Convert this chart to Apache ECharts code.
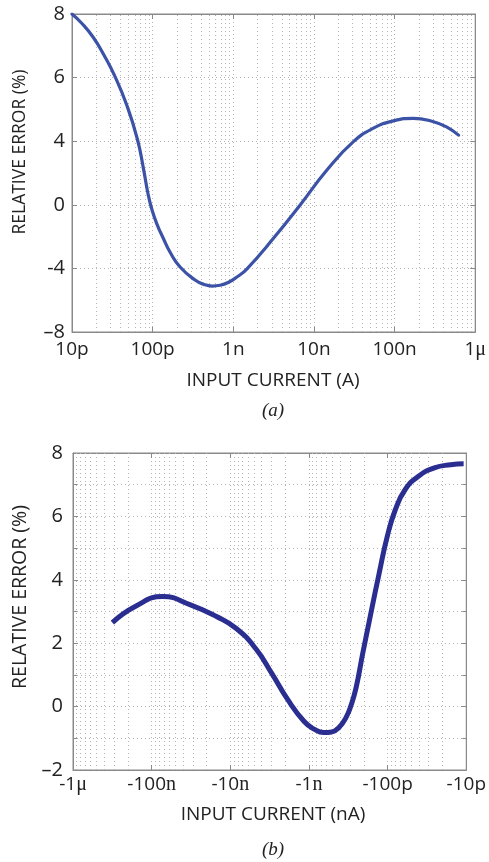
<!DOCTYPE html>
<html>
<head>
<meta charset="utf-8">
<script src="https://cdn.jsdelivr.net/npm/echarts@6/dist/echarts.min.js"></script>
<style>
  html, body { margin: 0; padding: 0; background: #fff; }
  #chart { width: 489px; height: 862px; }
</style>
</head>
<body>
<div id="chart"></div>
<script>
// Panel (a): positive input current, amps
const currentA = [1.00e-11, 1.33e-11, 1.84e-11, 2.49e-11, 3.42e-11, 4.77e-11, 6.46e-11,
  7.67e-11, 8.77e-11, 9.83e-11, 1.13e-10, 1.35e-10, 1.64e-10, 2.19e-10, 3.36e-10, 4.34e-10,
  5.46e-10, 6.86e-10, 8.62e-10, 1.11e-9, 1.47e-9, 3.15e-9, 6.75e-9,
  1.45e-8, 3.09e-8, 5.47e-8, 9.68e-8, 1.71e-7, 3.04e-7, 4.46e-7, 6.21e-7];
const errorA = [8.00, 7.70, 7.26, 6.71, 6.03, 5.14, 4.07,
  2.31, 0.68, -0.33, -1.21, -2.09, -2.97, -3.91, -4.73, -5.01,
  -5.11, -5.06, -4.89, -4.54, -4.04, -2.11, -0.01,
  2.19, 3.97, 4.41, 4.64, 4.72, 4.61, 4.44, 4.19];

// Panel (b): negative input current, amps
const currentB = [-3.16e-7, -1.62e-7, -7.23e-8, -3.21e-8, -1.50e-8, -8.47e-9, -4.79e-9,
  -2.97e-9, -1.85e-9, -1.15e-9, -8.62e-10, -6.48e-10, -5.16e-10, -4.10e-10, -3.36e-10,
  -2.91e-10, -2.52e-10, -2.07e-10, -1.63e-10, -1.28e-10, -1.01e-10, -7.98e-11, -6.00e-11,
  -4.09e-11, -2.55e-11, -1.58e-11, -1.08e-11];
const errorB = [2.65, 3.16, 3.47, 3.21, 2.84, 2.47, 1.84,
  1.05, 0.21, -0.47, -0.71, -0.82, -0.80, -0.64, -0.33,
  0.05, 0.59, 1.68, 2.95, 4.21, 5.37, 6.21, 6.84,
  7.26, 7.53, 7.63, 7.66];

// Tick labels
const xTicksA = ['10p', '100p', '1n', '10n', '100n', '1{s|\u03bc}'];
const xTicksB = ['-10p', '-100p', '-1{s|n}', '-10{s|n}', '-100{s|n}', '-1{s|\u03bc}'];
const yTickValuesA = [-8, -4, 0, 4, 6, 8];
const yTicksA = ['\u20138', '-4', '0', '4', '6', '8'];
const yTicksB = ['\u20132', '0', '2', '4', '6', '8'];

// The left axis of panel (a) prints its ticks at even spacing,
// so each percentage sits between its two neighbouring ticks.
function tickPosition(v) {
  for (let i = 0; i < yTickValuesA.length - 1; i++) {
    const lo = yTickValuesA[i], hi = yTickValuesA[i + 1];
    if (v <= hi || i === yTickValuesA.length - 2) return i + (v - lo) / (hi - lo);
  }
}

// Decade index of a log-axis value (0 = 10 pA)
const decade = v => Math.round(Math.log10(v)) + 11;

// Minor log grid lines at 2..9 within each decade
function minorGrid(y0, y1) {
  const out = [];
  for (let e = -11; e < -6; e++) {
    for (let k = 2; k <= 9; k++) {
      const x = k * Math.pow(10, e);
      out.push({ coords: [[x, y0], [x, y1]] });
    }
  }
  return out;
}

const gray = '#8a8a8a';
const gridDot = { color: '#b4b4b4', width: 1, type: [1, 3] };
const sans = '"Open Sans", "Liberation Sans", sans-serif';
const serif = '"Liberation Serif", "DejaVu Serif", serif';

function logAxis(grid, pos, labels, inverse, margin) {
  const show = pos === 'bottom';
  return {
    type: 'log', logBase: 10, min: 1e-11, max: 1e-6, gridIndex: grid, position: pos,
    inverse: inverse,
    axisLine: { show: true, onZero: false, lineStyle: { color: gray, width: 1 } },
    axisTick: { show: true, inside: true, length: 5, lineStyle: { color: gray } },
    axisLabel: {
      show: show, margin: margin, color: '#222', fontFamily: sans, fontSize: 19,
      formatter: v => labels[decade(v)],
      rich: { s: { fontFamily: serif, fontSize: 20, color: '#222' } }
    },
    splitLine: { show: show, lineStyle: gridDot }
  };
}

function valueAxis(grid, pos, min, max, interval, labels, margin, minor) {
  const left = pos === 'left';
  const ax = {
    type: 'value', gridIndex: grid, min: min, max: max, interval: interval, position: pos,
    axisLine: { show: true, onZero: false, lineStyle: { color: gray } },
    axisTick: { show: true, inside: true, length: 5, lineStyle: { color: gray } },
    axisLabel: {
      show: left, margin: margin, color: '#222', fontFamily: sans, fontSize: 20,
      formatter: v => labels[Math.round((v - min) / interval)]
    },
    splitLine: { show: left, lineStyle: gridDot }
  };
  if (minor) {
    ax.minorTick = { show: true, splitNumber: 2, length: 4, lineStyle: { color: gray } };
    ax.minorSplitLine = { show: left, lineStyle: gridDot };
  }
  return ax;
}

function gridSeries(xi, yi, y0, y1) {
  return {
    type: 'lines', coordinateSystem: 'cartesian2d', xAxisIndex: xi, yAxisIndex: yi,
    silent: true, polyline: false, z: 1,
    lineStyle: { color: '#b4b4b4', width: 1, type: [1, 3], opacity: 1 },
    data: minorGrid(y0, y1)
  };
}

const option = {
  animation: false,
  backgroundColor: '#fff',
  grid: [
    { left: 72, top: 14, width: 404, height: 318, show: true, borderColor: gray, borderWidth: 1 },
    { left: 73, top: 453, width: 403, height: 317, show: true, borderColor: gray, borderWidth: 1 }
  ],
  xAxis: [
    logAxis(0, 'bottom', xTicksA, false, 8),
    logAxis(0, 'top', xTicksA, false, 8),
    logAxis(1, 'bottom', xTicksB, true, 5),
    logAxis(1, 'top', xTicksB, true, 5)
  ],
  yAxis: [
    valueAxis(0, 'left', 0, 5, 1, yTicksA, 7, false),
    valueAxis(0, 'right', 0, 5, 1, yTicksA, 7, false),
    valueAxis(1, 'left', -2, 8, 2, yTicksB, 10, true),
    valueAxis(1, 'right', -2, 8, 2, yTicksB, 10, true)
  ],
  series: [
    gridSeries(0, 0, 0, 5),
    gridSeries(2, 2, -2, 8),
    {
      type: 'line', xAxisIndex: 0, yAxisIndex: 0, showSymbol: false, smooth: 0.5,
      data: currentA.map((c, i) => [c, tickPosition(errorA[i])]),
      lineStyle: { color: '#3b52a6', width: 3.2, cap: 'round' },
      z: 5
    },
    {
      type: 'line', xAxisIndex: 2, yAxisIndex: 2, showSymbol: false, smooth: 0.5,
      data: currentB.map((c, i) => [Math.abs(c), errorB[i]]),
      lineStyle: { color: '#2a2e91', width: 5, cap: 'butt' },
      z: 5
    }
  ],
  graphic: [
    { type: 'text', x: 20, y: 152, rotation: Math.PI / 2,
      style: { text: 'RELATIVE ERROR (%)', fill: '#222', font: '17.5px ' + sans, align: 'center', verticalAlign: 'middle' } },
    { type: 'text', x: 273, y: 381,
      style: { text: 'INPUT CURRENT (A)', fill: '#222', font: '19px ' + sans, align: 'center', verticalAlign: 'middle' } },
    { type: 'text', x: 273, y: 411,
      style: { text: '(a)', fill: '#222', font: 'italic 19px ' + serif, align: 'center', verticalAlign: 'middle' } },
    { type: 'text', x: 20, y: 597, rotation: Math.PI / 2,
      style: { text: 'RELATIVE ERROR (%)', fill: '#222', font: '19.5px ' + sans, align: 'center', verticalAlign: 'middle' } },
    { type: 'text', x: 273, y: 815,
      style: { text: 'INPUT CURRENT (nA)', fill: '#222', font: '19px ' + sans, align: 'center', verticalAlign: 'middle' } },
    { type: 'text', x: 273, y: 850,
      style: { text: '(b)', fill: '#222', font: 'italic 19px ' + serif, align: 'center', verticalAlign: 'middle' } }
  ]
};

const chart = echarts.init(document.getElementById('chart'), null, { renderer: 'canvas' });
chart.setOption(option);
</script>
</body>
</html>
